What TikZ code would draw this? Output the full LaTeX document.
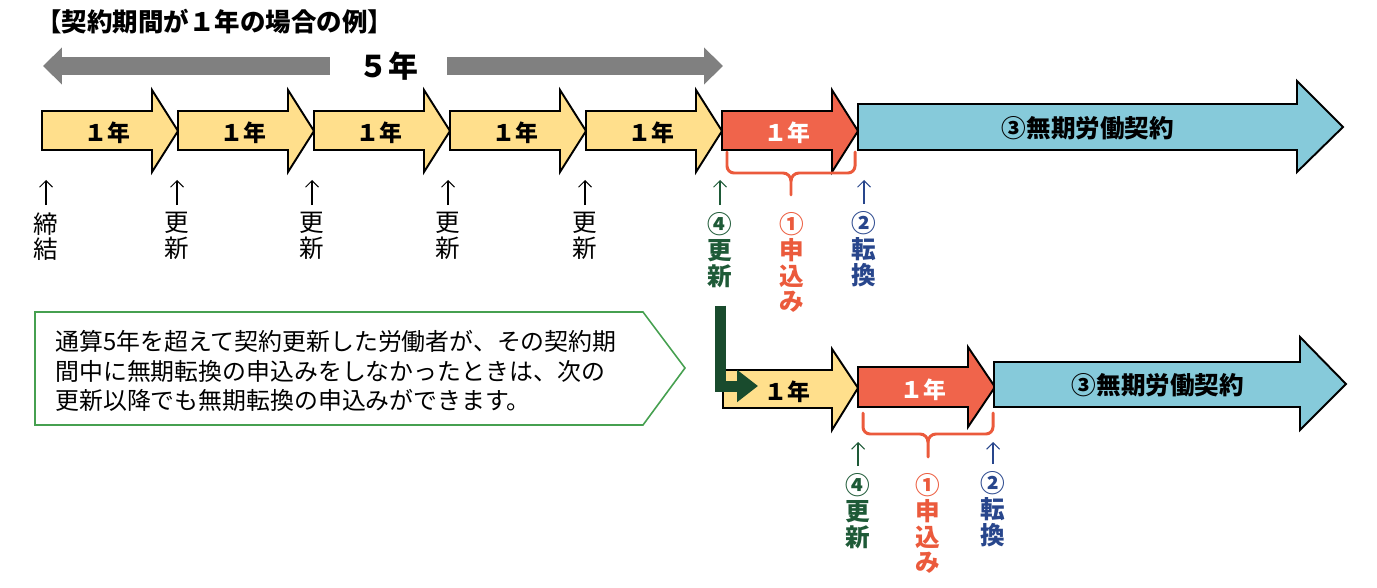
\documentclass[tikz,border=0pt]{standalone}
\usepackage{fontspec}
\setmainfont{Noto Sans CJK JP}
\usetikzlibrary{arrows.meta,positioning}
\definecolor{yearyellow}{HTML}{FFDF8C}
\definecolor{yearred}{HTML}{F0644B}
\definecolor{permblue}{HTML}{86CADA}
\definecolor{spangray}{HTML}{808080}
\definecolor{notegreen}{HTML}{46A050}
\definecolor{turngreen}{HTML}{194B2D}
\definecolor{renewgreen}{HTML}{1E5A37}
\definecolor{applyred}{HTML}{EB5A3C}
\definecolor{convblue}{HTML}{28468C}
\begin{document}
\begin{tikzpicture}[x=0.02cm,y=-0.02cm,
  yearbox/.style={draw=black,line width=1.1pt,line join=miter,fill=yearyellow},
  extbox/.style={yearbox,fill=yearred},
  permbox/.style={yearbox,fill=permblue},
  yeartext/.style={font=\bfseries\fontsize{13pt}{13pt}\selectfont,inner sep=0pt},
  permtext/.style={font=\bfseries\fontsize{14pt}{14pt}\selectfont,inner sep=0pt},
  tiplabel/.style={anchor=north,align=center,inner sep=0pt,font=\fontsize{14pt}{14.7pt}\selectfont},
  keylabel/.style={tiplabel,font=\bfseries\fontsize{14pt}{14.7pt}\selectfont},
  uptip/.style={-{Straight Barb[length=0.13cm,width=0.26cm]},line width=0.6pt,shorten <=0.14cm},
  bracket/.style={applyred,line width=1.7pt,line cap=round},
  spanline/.style={spangray,line width=0.36cm,-{Triangle[length=0.38cm,width=0.72cm]}},
]
\useasboundingbox (0,0) rectangle (1377,588);

% title and 5-year span
\node[anchor=west,inner sep=0pt,font=\bfseries\fontsize{14.5pt}{14.5pt}\selectfont] (title) at (36,22) {【契約期間が１年の場合の例】};
\node[inner sep=0pt,minimum width=2.34cm,font=\bfseries\fontsize{17pt}{17pt}\selectfont] (span) at (388.5,66) {５年};
\coordinate (spanL) at (43,66);
\coordinate (spanR) at (723,66);
\draw[spanline] (span.west) -- (spanL);
\draw[spanline] (span.east) -- (spanR);

% upper row
\foreach \i in {0,...,4} {
  \pgfmathsetmacro\xa{42+136*\i}
  \draw[yearbox] (\xa,111) -- (\xa+110,111) -- (\xa+110,90) -- (\xa+136,131) -- (\xa+110,172) -- (\xa+110,150) -- (\xa,150) -- cycle;
  \node[yeartext] (yr\i) at (\xa+65,133) {１年};
}
\draw[extbox] (722,111) -- (832,111) -- (832,90) -- (858,131) -- (832,172) -- (832,150) -- (722,150) -- cycle;
\node[yeartext,text=white] (ext) at (787,133) {１年};
\draw[permbox] (858,104) -- (1297,104) -- (1297,81) -- (1343,127) -- (1297,172) -- (1297,150) -- (858,150) -- cycle;
\node[permtext] (perm) at (1088,128) {③無期労働契約};

\draw[bracket] (727,152) -- (727,166) to[out=-90,in=180] (734,173) -- (783,173) to[out=0,in=90] (791,181) -- (791,195);
\draw[bracket] (855,152) -- (855,166) to[out=-90,in=0] (848,173) -- (799,173) to[out=180,in=90] (791,181);

% upper marks
\node[tiplabel] (sign) at (46,212) {締\\結};
\coordinate (j0) at (46,180);
\draw[uptip] (sign.north) -- (j0);
\foreach \x [count=\n] in {177,312,448,585} {
  \node[tiplabel] (ren\n) at (\x,212) {更\\新};
  \coordinate (j\n) at (\x,180);
  \draw[uptip] (ren\n.north) -- (j\n);
}
\node[keylabel,text=renewgreen] (renew) at (720,212) {④\\更\\新};
\coordinate (jr) at (720,180);
\draw[uptip,renewgreen] (renew.north) -- (jr);
\node[keylabel,text=applyred] (apply) at (792,212) {①\\申\\込\\み};
\node[keylabel,text=convblue] (conv) at (864,211) {②\\転\\換};
\coordinate (jc) at (864,180);
\draw[uptip,convblue] (conv.north) -- (jc);

% note box
\draw[notegreen,line width=0.9pt] (35,312) -- (643,312) -- (685,368) -- (643,425) -- (35,425) -- cycle;
\node[anchor=west,align=left,inner sep=0pt,font=\fontsize{13.6pt}{17pt}\selectfont] (note) at (55,371)
  {通算5年を超えて契約更新した労働者が、その契約期\\間中に無期転換の申込みをしなかったときは、次の\\更新以降でも無期転換の申込みができます。};

% lower row
\draw[yearbox] (723,370) -- (832,370) -- (832,349) -- (858,388) -- (832,430) -- (832,408) -- (723,408) -- cycle;
\coordinate (turnend) at (758,386);
\draw[turngreen,line width=0.22cm,line join=miter,shorten <=0.36cm,-{Triangle[length=0.42cm,width=0.62cm]}] (renew.south) |- (turnend);
\node[yeartext] (lyr) at (787,392) {１年};
\draw[extbox] (858,367) -- (968,367) -- (968,347) -- (995,387) -- (968,427) -- (968,407) -- (858,407) -- cycle;
\node[yeartext,text=white] (lext) at (923,390) {１年};
\draw[permbox] (994,362) -- (1300,362) -- (1300,337) -- (1346,384) -- (1300,430) -- (1300,407) -- (994,407) -- cycle;
\node[permtext] (lperm) at (1158,385) {③無期労働契約};

\draw[bracket] (863,413) -- (863,427) to[out=-90,in=180] (870,434) -- (920,434) to[out=0,in=90] (928,442) -- (928,457);
\draw[bracket] (993,413) -- (993,427) to[out=-90,in=0] (986,434) -- (936,434) to[out=180,in=90] (928,442);

% lower marks
\node[keylabel,text=renewgreen] (lrenew) at (858,473) {④\\更\\新};
\coordinate (ljr) at (858,442);
\draw[uptip,renewgreen] (lrenew.north) -- (ljr);
\node[keylabel,text=applyred] (lapply) at (928,473) {①\\申\\込\\み};
\node[keylabel,text=convblue] (lconv) at (993,471) {②\\転\\換};
\coordinate (ljc) at (993,442);
\draw[uptip,convblue] (lconv.north) -- (ljc);
\end{tikzpicture}
\end{document}
